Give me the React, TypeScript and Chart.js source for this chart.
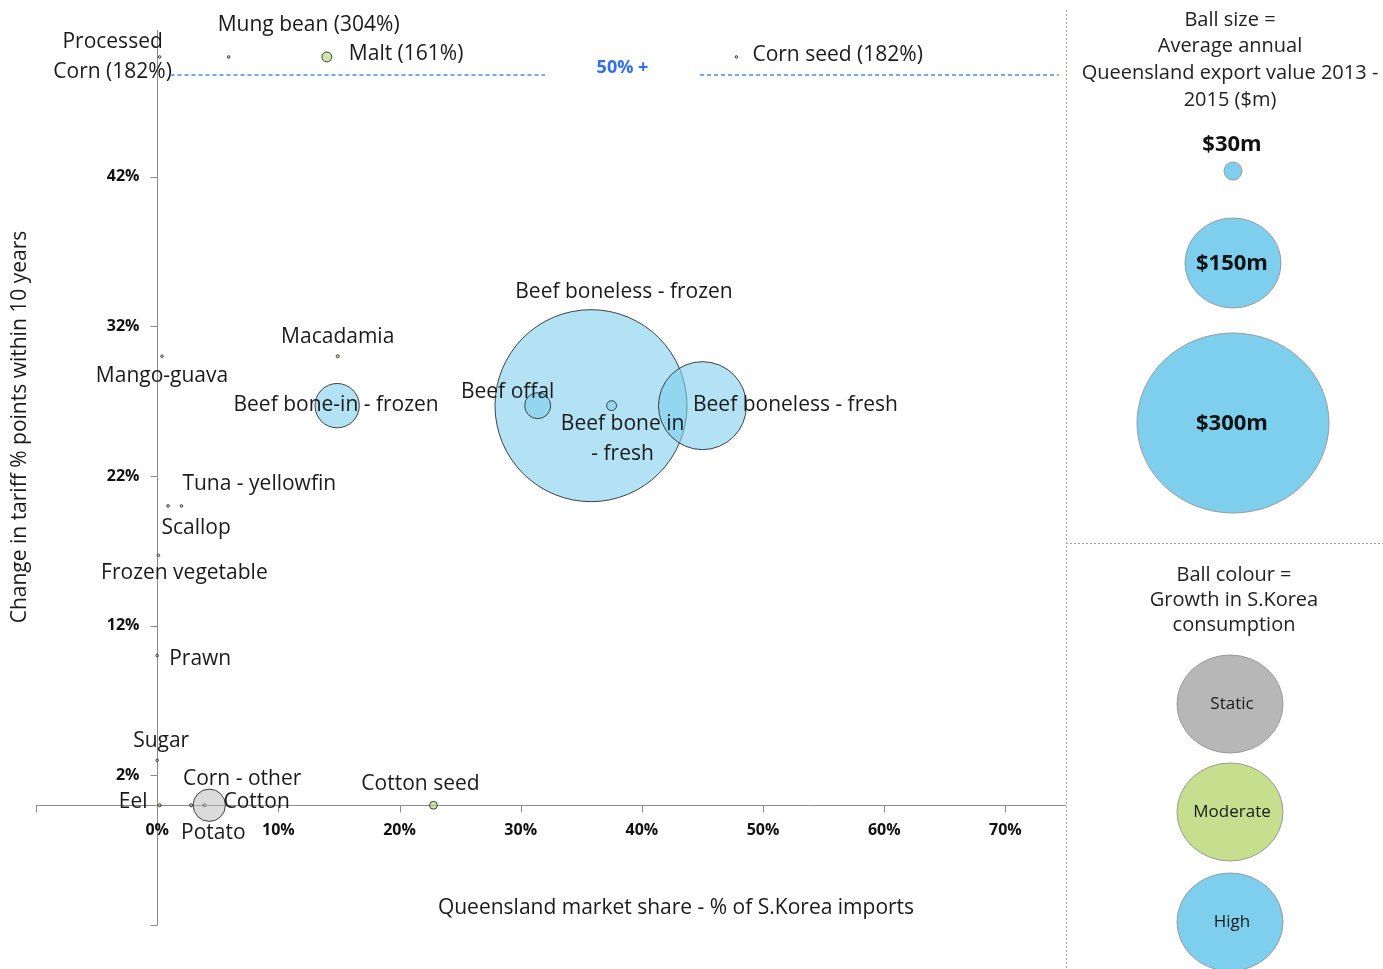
import React, { useEffect, useRef } from "react";
import { Chart, registerables } from "chart.js";

Chart.register(...registerables);

// Products: Queensland market share of S.Korea imports (x, %) and change in tariff (y, % points)
const NAMES = [
  "Beef boneless - frozen",
  "Beef boneless - fresh",
  "Beef bone-in - frozen",
  "Beef offal",
  "Beef bone in\n- fresh",
  "Processed\nCorn (182%)",
  "Mung bean (304%)",
  "Malt (161%)",
  "Corn seed (182%)",
  "Macadamia",
  "Mango-guava",
  "Tuna - yellowfin",
  "Scallop",
  "Frozen vegetable",
  "Prawn",
  "Sugar",
  "Eel",
  "Corn - other",
  "Cotton",
  "Potato",
  "Cotton seed",
];
const MARKET_SHARE = [35.8, 45.0, 14.85, 31.4, 37.5, 0.2, 5.9, 14.0, 47.8, 14.9, 0.4, 2.0, 0.9, 0.1, 0.0, 0.0, 0.2, 2.8, 3.9, 4.3, 22.8];
const TARIFF_CHANGE = [26.7, 26.7, 26.7, 26.7, 26.7, 50, 50, 50, 50, 30, 30, 20, 20, 16.7, 10, 3, 0, 0, 0, 0, 0];
// Average annual Queensland export value 2013-2015 ($m)
const EXPORT_VALUE = [300, 63, 16, 5.5, 0.8, 0.05, 0.05, 0.8, 0.05, 0.08, 0.05, 0.05, 0.05, 0.05, 0.05, 0.05, 0.08, 0.08, 0.08, 8.5, 0.5];
// Growth in S.Korea consumption
const GROWTH = [
  "high", "high", "high", "high", "high",
  "static", "static", "moderate", "static", "moderate", "static",
  "static", "static", "static", "static", "static", "moderate",
  "static", "static", "static", "moderate",
];

const X_TICKS = [-10, 0, 10, 20, 30, 40, 50, 60, 70];
const Y_TICKS = [-8, 2, 12, 22, 32, 42];
const CAPPED_LEVEL = 48.8; // points above this line are tariff cuts of 50% +

// Label placement relative to each bubble centre (px)
const LABEL_LAYOUT = [
  { dx: 33, dy: -114, align: "center" },
  { dx: 93, dy: -1, align: "center" },
  { dx: -1, dy: -1, align: "center" },
  { dx: -30, dy: -14, align: "center" },
  { dx: 11, dy: 18, align: "center" },
  { dx: -47, dy: -15, align: "center" },
  { dx: 80, dy: -32, align: "center" },
  { dx: 22, dy: -3, align: "left" },
  { dx: 16, dy: -2, align: "left" },
  { dx: 0, dy: -19, align: "center" },
  { dx: 0, dy: 20, align: "center" },
  { dx: 1, dy: -22, align: "left" },
  { dx: 28, dy: 22, align: "center" },
  { dx: 26, dy: 18, align: "center" },
  { dx: 12, dy: 3, align: "left" },
  { dx: 4, dy: -19, align: "center" },
  { dx: -12, dy: -3, align: "right" },
  { dx: 51, dy: -26, align: "center" },
  { dx: 19, dy: -3, align: "left" },
  { dx: 4, dy: 28, align: "center" },
  { dx: -13, dy: -21, align: "center" },
];

const FILL: Record<string, string> = {
  static: "rgba(183,183,183,0.5)",
  moderate: "rgba(176,212,110,0.6)",
  high: "rgba(126,207,237,0.6)",
};
const LEGEND_FILL: Record<string, string> = {
  static: "#b7b7b7",
  moderate: "#c5df8e",
  high: "#7ecfed",
};

const MAX_VALUE = 300;
const MAX_RADIUS = 96;
const radiusFor = (v: number) => Math.max(1.3, MAX_RADIUS * Math.sqrt(v / MAX_VALUE));

const FONT = "'Open Sans', 'Noto Sans', sans-serif";
const W = 1383;
const H = 969;
const PANEL_X = 1066;
const AXIS_COLOR = "#8a8a8a";

// Axes crossing at the origin, drawn from the chart's own scales
const axesPlugin = {
  id: "crossAxes",
  beforeDatasetsDraw(chart: any) {
    const ctx = chart.ctx as CanvasRenderingContext2D;
    const xs = chart.scales.x;
    const ys = chart.scales.y;
    const { left, right, top, bottom } = chart.chartArea;
    const x0 = Math.round(xs.getPixelForValue(0)) + 0.5;
    const y0 = Math.round(ys.getPixelForValue(0)) + 0.5;
    ctx.save();
    ctx.strokeStyle = AXIS_COLOR;
    ctx.lineWidth = 1;
    ctx.beginPath();
    ctx.moveTo(left, y0);
    ctx.lineTo(right, y0);
    ctx.moveTo(x0, top);
    ctx.lineTo(x0, bottom);
    X_TICKS.forEach((v) => {
      const px = Math.round(xs.getPixelForValue(v)) + 0.5;
      ctx.moveTo(px, y0);
      ctx.lineTo(px, y0 + 7);
    });
    Y_TICKS.forEach((v) => {
      const py = Math.round(ys.getPixelForValue(v)) + 0.5;
      ctx.moveTo(x0, py);
      ctx.lineTo(x0 - 7, py);
    });
    ctx.stroke();

    ctx.fillStyle = "#111";
    ctx.font = `bold 16px ${FONT}`;
    ctx.textBaseline = "middle";
    ctx.textAlign = "center";
    X_TICKS.filter((v) => v >= 0).forEach((v) => {
      ctx.fillText(`${v}%`, xs.getPixelForValue(v), y0 + 25);
    });
    ctx.textAlign = "right";
    Y_TICKS.filter((v) => v >= 0).forEach((v) => {
      ctx.fillText(`${v}%`, x0 - 18, ys.getPixelForValue(v));
    });
    ctx.restore();
  },
};

const labelsPlugin = {
  id: "bubbleLabels",
  afterDatasetsDraw(chart: any) {
    const ctx = chart.ctx as CanvasRenderingContext2D;
    const meta = chart.getDatasetMeta(0);
    ctx.save();
    ctx.font = `21px ${FONT}`;
    ctx.fillStyle = "#1a1a1a";
    ctx.textBaseline = "middle";
    meta.data.forEach((el: any, i: number) => {
      const lay = LABEL_LAYOUT[i];
      ctx.textAlign = lay.align as CanvasTextAlign;
      NAMES[i].split("\n").forEach((line, k) => {
        ctx.fillText(line, el.x + lay.dx, el.y + lay.dy + k * 30);
      });
    });

    // 50% + threshold line
    const xs = chart.scales.x;
    const ys = chart.scales.y;
    const yl = Math.round(ys.getPixelForValue(CAPPED_LEVEL));
    ctx.strokeStyle = "#4a86f5";
    ctx.lineWidth = 1.6;
    ctx.setLineDash([4, 3]);
    ctx.beginPath();
    ctx.moveTo(xs.getPixelForValue(1.1), yl);
    ctx.lineTo(xs.getPixelForValue(32), yl);
    ctx.moveTo(xs.getPixelForValue(44.8), yl);
    ctx.lineTo(xs.getPixelForValue(74.4), yl);
    ctx.stroke();
    ctx.setLineDash([]);
    ctx.fillStyle = "#2f6fed";
    ctx.font = `bold 18px ${FONT}`;
    ctx.textAlign = "center";
    ctx.fillText("50% +", xs.getPixelForValue(38.4), yl - 7);

    // axis titles
    ctx.fillStyle = "#1a1a1a";
    ctx.font = `21px ${FONT}`;
    ctx.fillText("Queensland market share - % of S.Korea imports", 676, 908);
    ctx.save();
    ctx.translate(20, 427);
    ctx.rotate(-Math.PI / 2);
    ctx.fillText("Change in tariff % points within 10 years", 0, 0);
    ctx.restore();
    ctx.restore();
  },
  afterDraw(chart: any) {
    const ctx = chart.ctx as CanvasRenderingContext2D;
    ctx.save();
    // panel separators
    ctx.strokeStyle = "#a0a0a0";
    ctx.lineWidth = 1;
    ctx.setLineDash([2, 2]);
    ctx.beginPath();
    ctx.moveTo(PANEL_X + 0.5, 10);
    ctx.lineTo(PANEL_X + 0.5, H);
    ctx.moveTo(PANEL_X, 543.5);
    ctx.lineTo(W, 543.5);
    ctx.stroke();
    ctx.setLineDash([]);

    const cx = 1230;
    ctx.fillStyle = "#222";
    ctx.textAlign = "center";
    ctx.textBaseline = "middle";
    ctx.font = `20px ${FONT}`;
    ["Ball size =", "Average annual", "Queensland export value 2013 -", "2015 ($m)"].forEach((t, k) =>
      ctx.fillText(t, cx, 20 + k * 26.7)
    );

    const ellipse = (x: number, y: number, rx: number, ry: number, fill: string) => {
      ctx.beginPath();
      ctx.ellipse(x, y, rx, ry, 0, 0, Math.PI * 2);
      ctx.fillStyle = fill;
      ctx.fill();
      ctx.strokeStyle = "#9a9a9a";
      ctx.lineWidth = 1;
      ctx.stroke();
    };

    ctx.fillStyle = "#111";
    ctx.font = `bold 22px ${FONT}`;
    ctx.fillText("$30m", 1232, 145);
    ellipse(1233, 171, 9, 9, LEGEND_FILL.high);
    ellipse(1233, 263, 48, 45, LEGEND_FILL.high);
    ellipse(1233, 423, 96, 90, LEGEND_FILL.high);
    ctx.fillStyle = "#111";
    ctx.font = `bold 22px ${FONT}`;
    ctx.fillText("$150m", 1232, 264);
    ctx.fillText("$300m", 1232, 424);

    ctx.fillStyle = "#222";
    ctx.font = `20px ${FONT}`;
    ["Ball colour =", "Growth in S.Korea", "consumption"].forEach((t, k) =>
      ctx.fillText(t, 1234, 575 + k * 25)
    );

    const growthLegend: [string, string, number][] = [
      ["static", "Static", 704],
      ["moderate", "Moderate", 812],
      ["high", "High", 922],
    ];
    growthLegend.forEach(([g, label, y]) => {
      ellipse(1230, y, 53, 49, LEGEND_FILL[g]);
      ctx.fillStyle = "#1a1a1a";
      ctx.font = `17px ${FONT}`;
      ctx.fillText(label, 1232, y);
    });
    ctx.restore();
  },
};

export default function App() {
  const ref = useRef<HTMLCanvasElement | null>(null);

  useEffect(() => {
    if (!ref.current) return;
    const chart = new Chart(ref.current, {
      type: "bubble",
      data: {
        datasets: [
          {
            data: NAMES.map((_, i) => ({ x: MARKET_SHARE[i], y: TARIFF_CHANGE[i] })),
            radius: (c: any) => radiusFor(EXPORT_VALUE[c.dataIndex]),
            backgroundColor: (c: any) => FILL[GROWTH[c.dataIndex]],
            borderColor: "rgba(45,45,45,0.9)",
            borderWidth: 1,
            clip: false,
          } as any,
        ],
      },
      options: {
        responsive: false,
        animation: false,
        events: [],
        layout: {
          autoPadding: false,
          padding: { left: 36, right: W - PANEL_X, top: 30, bottom: H - 925 },
        },
        plugins: { legend: { display: false }, tooltip: { enabled: false } },
        scales: {
          x: { type: "linear", min: -10, max: 75, display: false },
          y: { type: "linear", min: -8, max: 51.8, display: false },
        },
      },
      plugins: [axesPlugin, labelsPlugin],
    });
    return () => chart.destroy();
  }, []);

  return (
    <div style={{ position: "fixed", left: 0, top: 0, width: W, height: H, background: "#fff" }}>
      <canvas ref={ref} width={W} height={H} style={{ width: W, height: H, display: "block" }} />
    </div>
  );
}
